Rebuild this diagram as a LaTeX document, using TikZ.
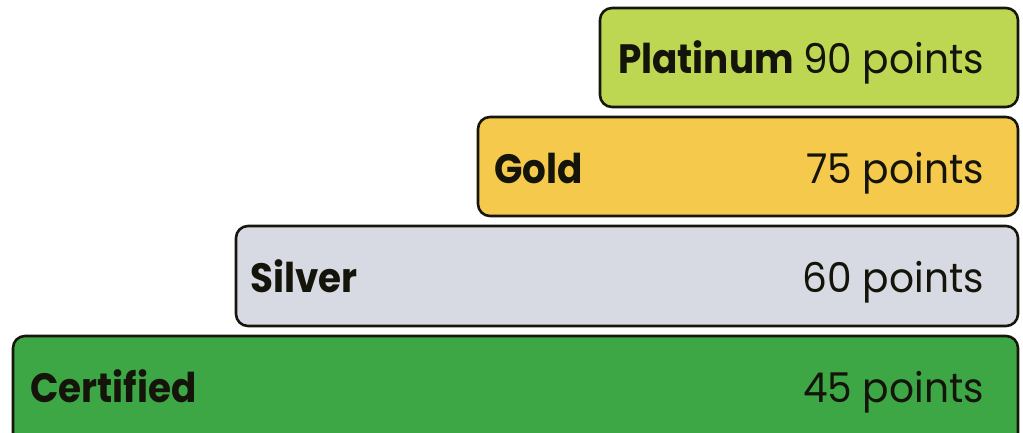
\documentclass[tikz,border=0pt]{standalone}
\usepackage{fontspec}
\setmainfont{Poppins}[UprightFeatures={FakeStretch=0.955}, BoldFeatures={FakeStretch=0.91}]
\definecolor{platc}{HTML}{BDD753}
\definecolor{goldc}{HTML}{F5C94B}
\definecolor{silvc}{HTML}{D7DAE2}
\definecolor{certc}{HTML}{3DA745}
\definecolor{edgec}{HTML}{16160C}
\definecolor{txtc}{HTML}{14140A}
\begin{document}
\begin{tikzpicture}[x=1pt,y=-1pt,
  tier/.style={draw=edgec, line width=2.6pt, rounded corners=12pt, anchor=north west, inner sep=0pt, outer sep=0pt},
  lbl/.style={anchor=base west, inner sep=0pt, font=\fontsize{41}{48}\selectfont\bfseries, text=txtc},
  pts/.style={anchor=base east, inner sep=0pt, font=\fontsize{41}{48}\selectfont, text=txtc}]
\useasboundingbox (0,0) rectangle (1023,433);
\clip (0,0) rectangle (1023,433);
\node[tier, fill=platc, minimum width=418pt, minimum height=99pt] (platbox) at (600,8) {};
\node[tier, fill=goldc, minimum width=540pt, minimum height=99pt] (goldbox) at (478,117) {};
\node[tier, fill=silvc, minimum width=782pt, minimum height=100pt] (silvbox) at (236,226) {};
\node[tier, fill=certc, minimum width=1005pt, minimum height=120pt] (certbox) at (13,336) {};
\node[lbl] (platname) at (618,74) {Platinum};
\node[pts] (platpts) at (984,74) {90 points};
\node[lbl] (goldname) at (494,183) {Gold};
\node[pts] (goldpts) at (984,183) {75 points};
\node[lbl] (silvname) at (250,292) {Silver};
\node[pts] (silvpts) at (984,292) {60 points};
\node[lbl] (certname) at (30,402) {Certified};
\node[pts] (certpts) at (984,402) {45 points};
\end{tikzpicture}
\end{document}
